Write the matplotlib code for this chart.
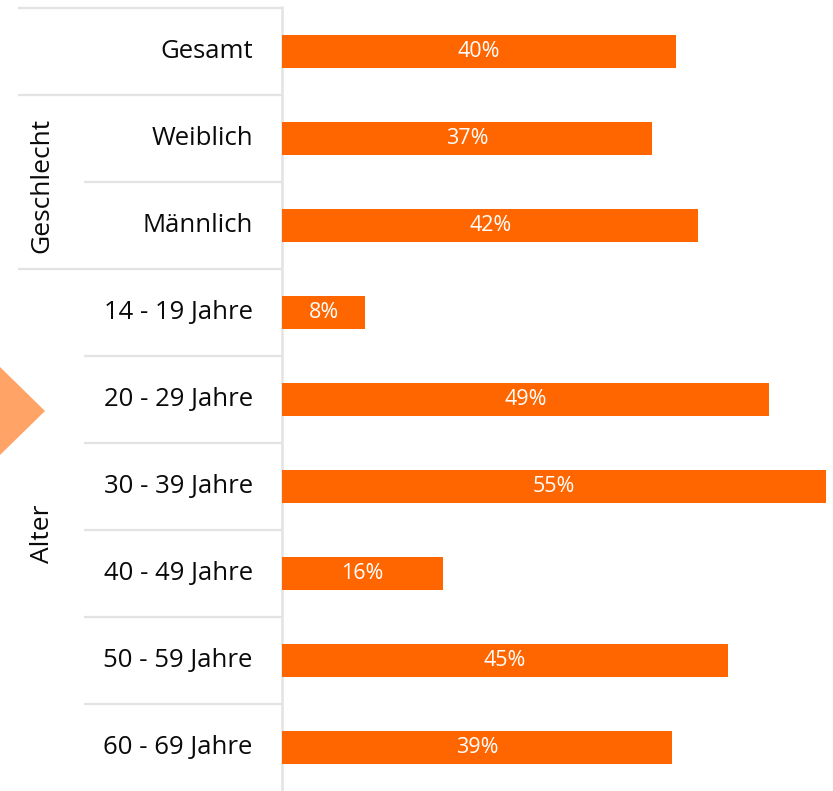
import matplotlib.pyplot as plt
import numpy as np
from matplotlib.patches import Polygon
from matplotlib.transforms import blended_transform_factory

categories = ["Gesamt", "Weiblich", "Männlich", "14 - 19 Jahre", "20 - 29 Jahre",
              "30 - 39 Jahre", "40 - 49 Jahre", "50 - 59 Jahre", "60 - 69 Jahre"]
values = [39.8, 37.4, 42.1, 8.4, 49.2, 55.0, 16.3, 45.1, 39.4]
group_names = ["Geschlecht", "Alter"]
group_first = [1, 3]
group_last = [2, 8]

plt.rcParams['font.family'] = ['Open Sans', 'DejaVu Sans']

W, H = 833, 791
fig = plt.figure(figsize=(W / 100, H / 100), dpi=100)
ax = fig.add_axes([282 / W, 0, 551 / W, 783 / H])

y = np.arange(len(categories))
ax.barh(y, values, height=0.39, color='#FF6600', zorder=3)
for yi, v in zip(y, values):
    ax.text(v / 2, yi, f"{round(v)}%", color='white', ha='center', va='center',
            fontsize=15.5, zorder=4)

ax.set_xlim(0, 55.7)
ax.set_ylim(len(categories) - 0.5, -0.5)
ax.axis('off')

trans = blended_transform_factory(ax.transAxes, ax.transData)
grid_col = '#E3E3E3'

# category labels
for yi, c in zip(y, categories):
    ax.text(-0.053, yi, c, transform=trans, ha='right', va='center', fontsize=18.5,
            color='#0a0a0a', clip_on=False)

# separators
starts = {}
for g0 in [0] + group_first:
    starts[g0] = -0.479
for i in range(len(categories)):
    x0 = starts.get(i, -0.359)
    ax.plot([x0, 0], [i - 0.5, i - 0.5], transform=trans, color=grid_col, lw=1.6,
            clip_on=False, solid_capstyle='butt')
ax.plot([0, 0], [-0.52, len(categories) - 0.5], transform=trans, color=grid_col, lw=1.8,
        clip_on=False, solid_capstyle='butt', zorder=1)

# group labels
for name, a, b in zip(group_names, group_first, group_last):
    ax.text(-0.435, (a + b) / 2 + 0.04, name, transform=trans, rotation=90, ha='center',
            va='center', fontsize=19, color='#0a0a0a', clip_on=False)

# arrow decoration on the left edge
tri = Polygon([(0, 1 - 367 / H), (45 / W, 1 - 411 / H), (0, 1 - 455 / H)],
              closed=True, transform=fig.transFigure, color='#FFA366', lw=0)
fig.patches.append(tri)

fig.savefig("out.png", dpi=100)
